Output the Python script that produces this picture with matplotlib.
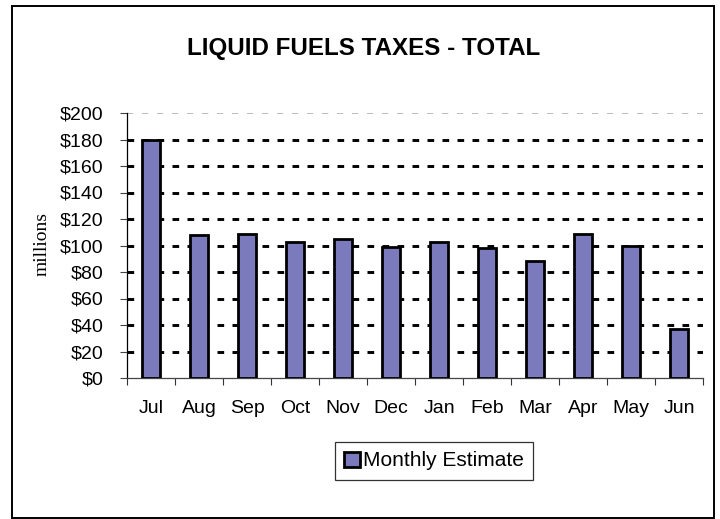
import matplotlib
matplotlib.use('Agg')
import matplotlib.pyplot as plt
from matplotlib.patches import Rectangle

# 数据
months = ['Jul', 'Aug', 'Sep', 'Oct', 'Nov', 'Dec', 'Jan', 'Feb', 'Mar', 'Apr', 'May', 'Jun']
estimate = [180, 108, 109, 103, 105, 99, 102.5, 98, 88, 109, 100, 37]
yticks = [0, 20, 40, 60, 80, 100, 120, 140, 160, 180, 200]

plt.rcParams['font.family'] = ['Liberation Sans', 'DejaVu Sans']
plt.rcParams['lines.scale_dashes'] = False

fig = plt.figure(figsize=(7.2, 5.19), dpi=100)
ax = fig.add_axes([127 / 720, 1 - 378 / 519, 576 / 720, 265 / 519])

x = list(range(len(months)))

# 网格线
for v in yticks[1:-1]:
    ax.axhline(v, color='black', lw=2.1, dashes=(4.8, 6.0), zorder=1)
ax.axhline(yticks[-1], color='#aaaaaa', lw=1.1, dashes=(4.5, 6.3), zorder=1)

ax.bar(x, estimate, width=0.37, color='#7a7abc', edgecolor='black', linewidth=2,
       label='Monthly Estimate', zorder=3)

ax.set_xlim(-0.5, len(months) - 0.5)
ax.set_ylim(0, 200)
ax.set_yticks(yticks)
ax.set_yticklabels(['$%d' % v for v in yticks], fontsize=14)
ax.set_xticks(x)
ax.set_xticklabels(months, fontsize=14)
ax.set_xticks([i - 0.5 for i in range(len(months) + 1)], minor=True)
ax.tick_params(axis='x', which='major', length=0, pad=16)
ax.tick_params(axis='x', which='minor', length=5, width=0.8, color='#333333', direction='out')
ax.tick_params(axis='y', length=5, width=0.8, color='#444444', pad=12)

for s in ['top', 'right']:
    ax.spines[s].set_visible(False)
ax.spines['left'].set_color('black')
ax.spines['left'].set_linewidth(0.9)
ax.spines['bottom'].set_color('#444444')
ax.spines['bottom'].set_linewidth(0.9)

fig.text(364 / 720, 1 - 48.5 / 519, 'LIQUID FUELS TAXES - TOTAL', ha='center', va='center',
         fontsize=17.4, fontweight='bold')
fig.text(42 / 720, 1 - 244 / 519, 'millions', rotation=90, ha='center', va='center',
         fontsize=14, family=['Liberation Serif', 'DejaVu Serif'])

leg = fig.legend(loc='center', bbox_to_anchor=(434 / 720, 1 - 461 / 519), fontsize=15,
                 frameon=True, fancybox=False, handlelength=0.75, handleheight=0.75,
                 handletextpad=0.15, borderpad=0.45)
leg.get_frame().set_edgecolor('black')
leg.get_frame().set_linewidth(0.9)

# 外框
fig.patches.append(Rectangle((12 / 720, 1 - 518 / 519), 702 / 720, 512 / 519,
                             transform=fig.transFigure, fill=False, edgecolor='black',
                             linewidth=1.4))

fig.savefig('out.png', dpi=100)
